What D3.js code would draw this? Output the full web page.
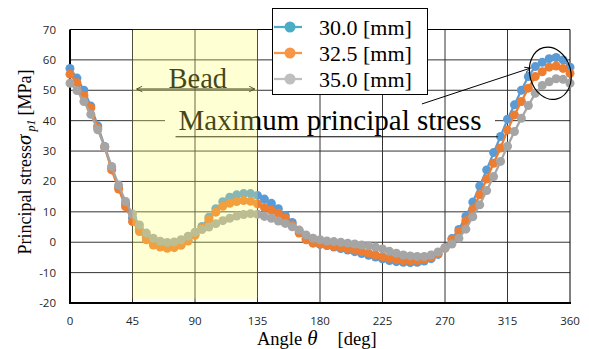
<!DOCTYPE html>
<html>
<head>
<meta charset="utf-8">
<script src="https://cdn.jsdelivr.net/npm/d3@7"></script>
<style>
  body { margin: 0; background: #fff; }
  svg { display: block; }
</style>
</head>
<body>
<script>
// angle categories [deg]
const angles = [0, 5, 10, 15, 20, 25, 30, 35, 40, 45, 50, 55, 60, 65, 70, 75, 80, 85, 90,
  95, 100, 105, 110, 115, 120, 125, 130, 135, 140, 145, 150, 155, 160, 165, 170, 175, 180,
  185, 190, 195, 200, 205, 210, 215, 220, 225, 230, 235, 240, 245, 250, 255, 260, 265, 270,
  275, 280, 285, 290, 295, 300, 305, 310, 315, 320, 325, 330, 335, 340, 345, 350, 355, 360];

// principal stress [MPa] per series
const stress300 = [57.2, 54.0, 50.0, 44.8, 38.3, 31.5, 24.5, 18.2, 12.6, 8.0, 4.3, 1.6, -0.2,
  -1.2, -1.5, -1.3, -0.7, 0.6, 2.6, 5.2, 8.2, 11.0, 13.3, 14.8, 15.6, 16.0, 16.0, 15.4, 14.2,
  12.8, 11.0, 8.8, 6.5, 3.8, 1.2, -0.2, -0.7, -1.1, -1.6, -2.1, -2.6, -3.1, -3.7, -4.3, -4.9,
  -5.5, -6.0, -6.4, -6.6, -6.7, -6.6, -6.2, -5.4, -4.0, -1.8, 1.2, 4.2, 8.5, 13.2, 18.5, 23.8,
  29.5, 34.8, 40.5, 45.2, 50.0, 54.5, 57.8, 59.2, 60.4, 60.8, 60.0, 57.6];
const stress325 = [55.3, 52.5, 48.3, 44.2, 37.6, 31.2, 23.8, 17.5, 11.7, 6.8, 3.5, 0.8, -0.9,
  -1.6, -2.0, -1.8, -1.0, 0.4, 2.3, 4.6, 7.5, 9.9, 11.8, 12.8, 13.4, 13.7, 13.5, 12.6, 11.4,
  10.5, 9.5, 8.0, 5.7, 3.0, 0.8, -0.3, -0.6, -1.0, -1.4, -1.8, -2.2, -2.6, -3.1, -3.6, -4.2,
  -4.8, -5.3, -5.7, -6.0, -6.1, -6.0, -5.7, -5.0, -3.7, -1.9, 0.8, 3.5, 7.1, 10.9, 15.6, 20.8,
  26.0, 31.0, 36.9, 41.9, 46.3, 50.7, 54.5, 56.1, 57.6, 58.0, 57.2, 55.6];
const stress350 = [52.3, 49.9, 46.3, 42.1, 37.0, 31.4, 24.9, 18.8, 13.4, 9.3, 5.7, 3.0, 1.3,
  0.3, -0.1, 0.1, 0.8, 2.0, 3.3, 4.2, 5.0, 6.1, 7.1, 7.9, 8.6, 9.1, 9.4, 9.2, 8.5, 7.9, 7.0,
  6.2, 5.1, 4.0, 2.4, 1.3, 0.8, 0.4, 0.2, 0.0, -0.3, -0.6, -0.9, -1.2, -1.6, -2.2, -3.0, -3.6,
  -4.2, -4.5, -4.7, -4.7, -4.2, -3.2, -2.0, -0.6, 1.3, 4.3, 8.4, 12.3, 17.0, 21.6, 26.6, 31.6,
  36.4, 40.8, 45.0, 49.0, 51.6, 52.8, 53.8, 53.6, 52.3];

const seriesNames = ["30.0 [mm]", "32.5 [mm]", "35.0 [mm]"];
const xTicks = [0, 45, 90, 135, 180, 225, 270, 315, 360];
const yTicks = [-20, -10, 0, 10, 20, 30, 40, 50, 60, 70];
const beadRange = [45, 135];

const lineColors = ["#5b9bd5", "#ed7d31", "#a5a5a5"];
const legendColors = ["#4bacc6", "#f79646", "#bfbfbf"];

const W = 589, H = 349;
const x = d3.scaleLinear().domain([0, 360]).range([70, 570]);
const y = d3.scaleLinear().domain([-20, 70]).range([303, 29.5]);

const svg = d3.select("body").append("svg").attr("width", W).attr("height", H);
const serif = "'Liberation Serif', 'Times New Roman', serif";
const sans = "'Open Sans', 'Liberation Sans', sans-serif";

svg.append("defs").append("marker")
  .attr("id", "open").attr("viewBox", "0 0 10 10").attr("refX", 9).attr("refY", 5)
  .attr("markerWidth", 7).attr("markerHeight", 7).attr("orient", "auto-start-reverse")
  .attr("markerUnits", "userSpaceOnUse")
  .append("path").attr("d", "M1,1 L9,5 L1,9").attr("fill", "none").attr("stroke", "#000").attr("stroke-width", 1.2);

// horizontal grid
svg.append("g").selectAll("line").data(yTicks.slice(1, -1)).join("line")
  .attr("x1", x(0)).attr("x2", x(360)).attr("y1", d => y(d)).attr("y2", d => y(d))
  .attr("stroke", "#333").attr("stroke-width", 1);

// white box behind the annotation text (hides the 40 line only)
svg.append("rect").attr("x", 165).attr("y", y(43.5)).attr("width", 330).attr("height", y(37) - y(43.5))
  .attr("fill", "#fff");

// vertical grid
svg.append("g").selectAll("line").data(xTicks.slice(1, -1)).join("line")
  .attr("x1", d => x(d)).attr("x2", d => x(d)).attr("y1", y(70)).attr("y2", y(-20))
  .attr("stroke", "#333").attr("stroke-width", 1);

// frame
svg.append("line").attr("x1", x(0)).attr("x2", x(360)).attr("y1", y(70)).attr("y2", y(70)).attr("stroke", "#000");
svg.append("line").attr("x1", x(360)).attr("x2", x(360)).attr("y1", y(70)).attr("y2", y(-20)).attr("stroke", "#000");
svg.append("line").attr("x1", x(0)).attr("x2", x(0)).attr("y1", y(70)).attr("y2", y(-20)).attr("stroke", "#000").attr("stroke-width", 2);
svg.append("line").attr("x1", x(0) - 1).attr("x2", x(360) + 1).attr("y1", y(-20)).attr("y2", y(-20)).attr("stroke", "#000").attr("stroke-width", 2);

// tick labels
svg.append("g").selectAll("text").data(yTicks).join("text")
  .attr("x", 56).attr("y", d => y(d)).attr("dy", "0.35em").attr("text-anchor", "end")
  .attr("font-family", sans).attr("font-size", 11.5).attr("fill", "#262626").text(d => d);
svg.append("g").selectAll("text").data(xTicks).join("text")
  .attr("x", d => x(d)).attr("y", 321).attr("dy", "0.35em").attr("text-anchor", "middle")
  .attr("font-family", sans).attr("font-size", 11.5).attr("fill", "#262626").text(d => d);

// series
const series = [stress300, stress325, stress350];
const line = d3.line().x((d, i) => x(angles[i])).y(d => y(d));
series.forEach((vals, k) => {
  const g = svg.append("g");
  g.append("path").datum(vals).attr("d", line).attr("fill", "none")
    .attr("stroke", lineColors[k]).attr("stroke-width", 2.25);
  g.selectAll("circle").data(vals).join("circle")
    .attr("cx", (d, i) => x(angles[i])).attr("cy", d => y(d)).attr("r", 4.5)
    .attr("fill", lineColors[k]);
});

// Bead annotation
svg.append("line").attr("x1", x(48)).attr("x2", x(133)).attr("y1", 89).attr("y2", 89)
  .attr("stroke", "#000").attr("stroke-width", 1)
  .attr("marker-start", "url(#open)").attr("marker-end", "url(#open)");
svg.append("text").attr("x", x(92)).attr("y", 87.5).attr("text-anchor", "middle")
  .attr("font-family", serif).attr("font-size", 28.5).attr("fill", "#000").text("Bead");

// Maximum principal stress annotation
svg.append("text").attr("x", 330).attr("y", 130).attr("text-anchor", "middle")
  .attr("font-family", serif).attr("font-size", 29).attr("fill", "#000").text("Maximum principal stress");
svg.append("line").attr("x1", x(76)).attr("x2", x(308)).attr("y1", y(34.7)).attr("y2", y(34.7))
  .attr("stroke", "#000").attr("stroke-width", 1);
svg.append("line").attr("x1", x(253.4)).attr("x2", x(331.5)).attr("y1", y(45.5)).attr("y2", y(57.3))
  .attr("stroke", "#000").attr("stroke-width", 1).attr("marker-end", "url(#open)");
svg.append("ellipse").attr("cx", x(345.8)).attr("cy", y(55.6)).attr("rx", 20.5).attr("ry", 26.5)
  .attr("transform", `rotate(-15 ${x(345.8)} ${y(55.6)})`)
  .attr("fill", "none").attr("stroke", "#000").attr("stroke-width", 1.2);

// bead band (translucent, drawn on top)
svg.append("rect").attr("x", x(beadRange[0])).attr("y", y(70))
  .attr("width", x(beadRange[1]) - x(beadRange[0])).attr("height", y(-18.6) - y(70))
  .attr("fill", "#ffff60").attr("opacity", 0.27);

// axis titles
const yt = svg.append("text").attr("transform", "translate(31,162) rotate(-90)")
  .attr("text-anchor", "middle").attr("font-family", serif).attr("font-size", 18).attr("fill", "#000");
yt.append("tspan").text("Principal stress");
yt.append("tspan").attr("font-style", "italic").attr("font-size", 21).text("σ");
yt.append("tspan").attr("font-style", "italic").attr("font-size", 12).attr("dx", 3).attr("dy", 4).text("p1");
yt.append("tspan").attr("dy", -4).attr("dx", 4).text("[MPa]");

const xt = svg.append("text").attr("x", 257).attr("y", 345)
  .attr("font-family", serif).attr("font-size", 18.5).attr("fill", "#000");
xt.append("tspan").text("Angle");
xt.append("tspan").attr("dx", 5).attr("font-style", "italic").attr("font-size", 21).text("θ");
xt.append("tspan").attr("dx", 20).text("[deg]");

// legend
const lg = svg.append("g");
lg.append("rect").attr("x", 272.5).attr("y", 8.5).attr("width", 155).attr("height", 86)
  .attr("fill", "#fff").attr("stroke", "#000").attr("stroke-width", 1);
seriesNames.forEach((name, k) => {
  const cy = 27 + k * 26;
  lg.append("line").attr("x1", 274).attr("x2", 302).attr("y1", cy).attr("y2", cy)
    .attr("stroke", legendColors[k]).attr("stroke-width", 2.25);
  lg.append("circle").attr("cx", 290).attr("cy", cy).attr("r", 5.5).attr("fill", legendColors[k]);
  lg.append("text").attr("x", 319).attr("y", cy + 8).attr("font-family", serif)
    .attr("font-size", 22).attr("fill", "#000").text(name);
});
</script>
</body>
</html>
